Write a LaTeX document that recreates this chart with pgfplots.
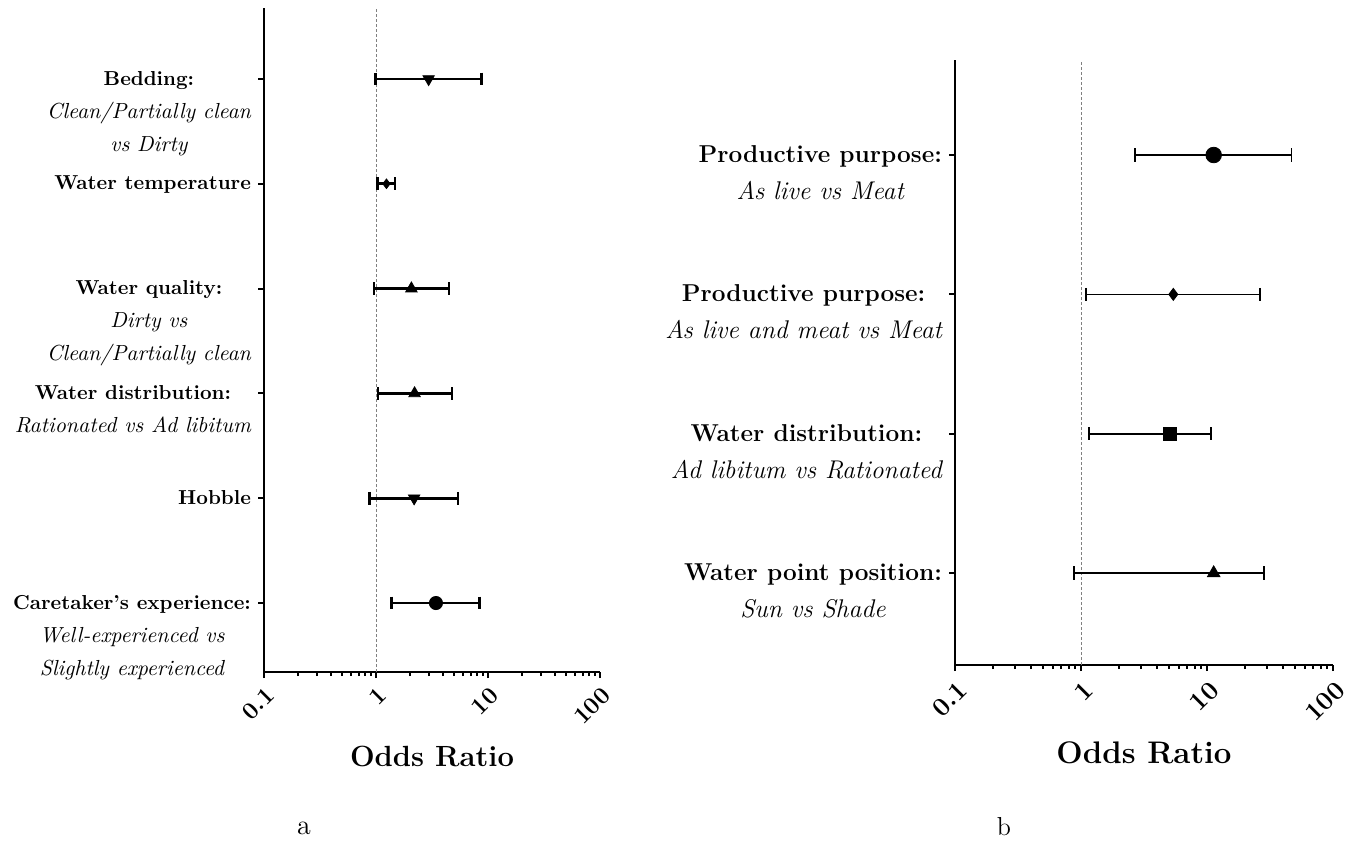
\documentclass[border=0pt]{standalone}
\usepackage{pgfplots}
\pgfplotsset{compat=1.18}
\newcommand\LB[1]{{\fontsize{10.1}{16.5}\selectfont\bfseries #1}}
\newcommand\LI[1]{{\fontsize{10.9}{16.5}\selectfont\itshape #1}}
\newcommand\RB[1]{{\fontsize{12.2}{18.5}\selectfont\bfseries #1}}
\newcommand\RI[1]{{\fontsize{12.8}{18.5}\selectfont\itshape #1}}
\begin{document}
\begin{tikzpicture}
\useasboundingbox (0,0) rectangle (674pt,421pt);
% ---------------- panel a ----------------
\begin{semilogxaxis}[
  scale only axis, xmin=0.1, xmax=100,
  axis lines*=left,
  axis line style={line width=1.2pt},
  xtick={0.1,1,10,100}, xticklabels={0.1,1,10,100},
  minor xtick={0.2,0.3,0.4,0.5,0.6,0.7,0.8,0.9,2,3,4,5,6,7,8,9,20,30,40,50,60,70,80,90},
  tick style={black, line width=1pt},
  tick align=outside,
  major tick length=3pt, minor tick length=2pt,
  clip=false,
  at={(132pt,85pt)}, anchor=south west,
  width=168pt, height=332pt,
  ymin=0.342, ymax=6.677,
  ytick={1,2,3,4,5,6},
  yticklabels={
    {\LB{Caretaker's experience:}\\\LI{Well-experienced vs}\\\LI{Slightly experienced}},
    {\LB{Hobble}},
    {\LB{Water distribution:}\\\LI{Rationated vs Ad libitum}},
    {\LB{Water quality:}\\\LI{Dirty vs}\\\LI{Clean/Partially clean}},
    {\LB{Water temperature}},
    {\LB{Bedding:}\\\LI{Clean/Partially clean}\\\LI{vs Dirty}}},
  yticklabel style={align=center, anchor=north east, font=\fontsize{10.5}{16.5}\selectfont, yshift=7.5pt},
  xticklabel style={rotate=45, anchor=east, font=\fontsize{12}{14}\selectfont\bfseries, yshift=-7pt, xshift=1pt},
  xlabel={Odds Ratio},
  xlabel style={font=\fontsize{14.6}{17}\selectfont\bfseries, at={(axis description cs:0.5,0)}, anchor=center, yshift=-42pt},
]
\addplot[gray, line width=0.5pt, dash pattern=on 1.5pt off 1pt] coordinates {(1,0.342) (1,6.677)};
% Bedding
\addplot[black, mark=|, line width=1.35pt, mark size=3.2pt] coordinates {(0.99,6) (8.8,6)};
\addplot[only marks, mark=triangle*, mark size=3.3pt, mark options={rotate=180, fill=black, draw=black}] coordinates {(2.95,6)};
% Water temperature
\addplot[black, mark=|, line width=1.35pt, mark size=3.2pt] coordinates {(1.03,5) (1.48,5)};
\addplot[only marks, mark=diamond*, mark size=2.4pt, mark options={fill=black, draw=black}] coordinates {(1.24,5)};
% Water quality
\addplot[black, mark=|, line width=1.35pt, mark size=3.2pt] coordinates {(0.96,4) (4.48,4)};
\addplot[only marks, mark=triangle*, mark size=3.3pt, mark options={fill=black, draw=black}] coordinates {(2.07,4)};
% Water distribution
\addplot[black, mark=|, line width=1.35pt, mark size=3.2pt] coordinates {(1.04,3) (4.78,3)};
\addplot[only marks, mark=triangle*, mark size=3.3pt, mark options={fill=black, draw=black}] coordinates {(2.21,3)};
% Hobble
\addplot[black, mark=|, line width=1.35pt, mark size=3.2pt] coordinates {(0.87,2) (5.4,2)};
\addplot[only marks, mark=triangle*, mark size=3.3pt, mark options={rotate=180, fill=black, draw=black}] coordinates {(2.19,2)};
% Caretaker
\addplot[black, mark=|, line width=1.35pt, mark size=3.2pt] coordinates {(1.38,1) (8.43,1)};
\addplot[only marks, mark=*, mark size=3.3pt, mark options={fill=black, draw=black}] coordinates {(3.43,1)};
\end{semilogxaxis}
% ---------------- panel b ----------------
\begin{semilogxaxis}[
  scale only axis, xmin=0.1, xmax=100,
  axis lines*=left,
  axis line style={line width=1.2pt},
  xtick={0.1,1,10,100}, xticklabels={0.1,1,10,100},
  minor xtick={0.2,0.3,0.4,0.5,0.6,0.7,0.8,0.9,2,3,4,5,6,7,8,9,20,30,40,50,60,70,80,90},
  tick style={black, line width=1pt},
  tick align=outside,
  major tick length=3pt, minor tick length=2pt,
  clip=false,
  at={(477.5pt,88.5pt)}, anchor=south west,
  width=189pt, height=302.5pt,
  ymin=0.34, ymax=4.682,
  ytick={1,2,3,4},
  yticklabels={
    {\RB{Water point position:}\\\RI{Sun vs Shade}},
    {\RB{Water distribution:}\\\RI{Ad libitum vs Rationated}},
    {\RB{Productive purpose:}\\\RI{As live and meat vs Meat}},
    {\RB{Productive purpose:}\\\RI{As live vs Meat}}},
  yticklabel style={align=center, anchor=north east, font=\fontsize{12.2}{18.5}\selectfont, yshift=8.3pt},
  xticklabel style={rotate=45, anchor=east, font=\fontsize{13}{15}\selectfont\bfseries, yshift=-8pt, xshift=1pt},
  xlabel={Odds Ratio},
  xlabel style={font=\fontsize{15.6}{18}\selectfont\bfseries, at={(axis description cs:0.5,0)}, anchor=center, yshift=-44pt},
]
\addplot[gray, line width=0.5pt, dash pattern=on 1.5pt off 1pt] coordinates {(1,0.34) (1,4.682)};
% Productive purpose: As live vs Meat
\addplot[black, mark=|, line width=0.8pt, mark size=3.3pt] coordinates {(2.68,4) (46.9,4)};
\addplot[only marks, mark=*, mark size=3.9pt, mark options={fill=black, draw=black}] coordinates {(11.3,4)};
% Productive purpose: As live and meat vs Meat
\addplot[black, mark=|, line width=0.8pt, mark size=3.3pt] coordinates {(1.10,3) (26.4,3)};
\addplot[only marks, mark=diamond*, mark size=3pt, mark options={fill=black, draw=black}] coordinates {(5.4,3)};
% Water distribution
\addplot[black, mark=|, line width=0.8pt, mark size=3.3pt] coordinates {(1.16,2) (10.7,2)};
\addplot[only marks, mark=square*, mark size=3.3pt, mark options={fill=black, draw=black}] coordinates {(5.1,2)};
% Water point position
\addplot[black, mark=|, line width=0.8pt, mark size=3.3pt] coordinates {(0.88,1) (28.4,1)};
\addplot[only marks, mark=triangle*, mark size=3.6pt, mark options={fill=black, draw=black}] coordinates {(11.3,1)};
\end{semilogxaxis}
\node[font=\fontsize{14}{16}\selectfont] at (152pt,7pt) {a};
\node[font=\fontsize{13}{15}\selectfont] at (502pt,7.5pt) {b};
\end{tikzpicture}
\end{document}
